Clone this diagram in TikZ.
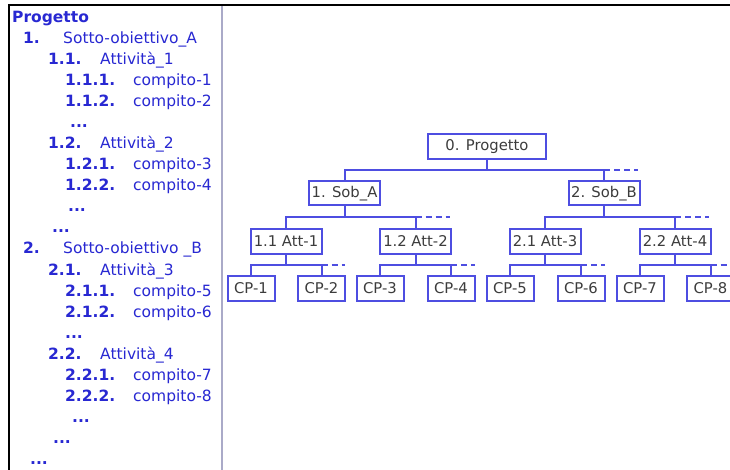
\documentclass[tikz,border=0pt]{standalone}
\usepackage{fontspec}
\setmainfont{DejaVu Sans}
\definecolor{tblue}{RGB}{78,78,225}
\definecolor{lblue}{RGB}{40,40,210}
\definecolor{ttext}{RGB}{60,60,60}
\definecolor{divc}{RGB}{170,170,200}
\begin{document}
\begin{tikzpicture}[x=1pt,y=-1pt,
 box/.style={draw=tblue, line width=2pt, fill=white, inner sep=0pt, text=ttext, font=\fontsize{14.8}{16}\selectfont},
 rootbox/.style={box, minimum width=118pt, minimum height=25pt},
 midbox/.style={box, minimum width=71pt, minimum height=24pt},
 leafbox/.style={box, minimum width=47pt, minimum height=25pt},
 link/.style={draw=tblue, line width=2pt},
 ext/.style={link, dash pattern=on 6pt off 4pt},
 num/.style={anchor=base west, inner sep=0pt, text=lblue, font=\fontsize{15.5}{18}\selectfont\bfseries},
 lbl/.style={anchor=base west, inner sep=0pt, text=lblue, font=\fontsize{15.5}{18}\selectfont},
]
\useasboundingbox (0,0) rectangle (730,470);
\fill[white] (0,0) rectangle (730,470);
\clip (0,0) rectangle (730,470);
% frame
\draw[black, line width=2pt] (8.5,471) -- (8.5,5.5) -- (731,5.5);
\draw[divc, line width=2pt] (222,6.5) -- (222,471);
% left outline text
\node[num] (p0) at (12,23) {Progetto};
\node[num] (n1) at (23,44) {1.};      \node[lbl] (l1) at (63,44) {Sotto-obiettivo\_A};
\node[num] (n2) at (48,65) {1.1.};    \node[lbl] (l2) at (100,65) {Attività\_1};
\node[num] (n3) at (65,86) {1.1.1.};  \node[lbl] (l3) at (133,86) {compito-1};
\node[num] (n4) at (65,107) {1.1.2.}; \node[lbl] (l4) at (133,107) {compito-2};
\node[num] (d5) at (70,128) {...};
\node[num] (n6) at (48,149) {1.2.};   \node[lbl] (l6) at (100,149) {Attività\_2};
\node[num] (n7) at (65,170) {1.2.1.}; \node[lbl] (l7) at (133,170) {compito-3};
\node[num] (n8) at (65,191) {1.2.2.}; \node[lbl] (l8) at (133,191) {compito-4};
\node[num] (d9) at (68,212) {...};
\node[num] (d10) at (52,233) {...};
\node[num] (n11) at (23,254) {2.};    \node[lbl] (l11) at (63,254) {Sotto-obiettivo \_B};
\node[num] (n12) at (48,275) {2.1.};  \node[lbl] (l12) at (100,275) {Attività\_3};
\node[num] (n13) at (65,296) {2.1.1.};\node[lbl] (l13) at (133,296) {compito-5};
\node[num] (n14) at (65,317) {2.1.2.};\node[lbl] (l14) at (133,317) {compito-6};
\node[num] (d15) at (65,338) {...};
\node[num] (n16) at (48,359) {2.2.};  \node[lbl] (l16) at (100,359) {Attività\_4};
\node[num] (n17) at (65,380) {2.2.1.};\node[lbl] (l17) at (133,380) {compito-7};
\node[num] (n18) at (65,401) {2.2.2.};\node[lbl] (l18) at (133,401) {compito-8};
\node[num] (d19) at (72,422) {...};
\node[num] (d20) at (53,443) {...};
\node[num] (d21) at (30,464) {...};
% tree nodes
\node[rootbox] (r) at (487,146.5) {0. Progetto};
\node[midbox] (sa) at (344.5,193.5) {1. Sob\_A};
\node[midbox] (sb) at (604,193.5) {2. Sob\_B};
\node[midbox] (a1) at (286,241.5) {1.1 Att-1};
\node[midbox] (a2) at (415.5,241.5) {1.2 Att-2};
\node[midbox] (a3) at (545,241.5) {2.1 Att-3};
\node[midbox] (a4) at (675,241.5) {2.2 Att-4};
\node[leafbox] (c1) at (251,288.5) {CP-1};
\node[leafbox] (c2) at (321.5,288.5) {CP-2};
\node[leafbox] (c3) at (380,288.5) {CP-3};
\node[leafbox] (c4) at (451,288.5) {CP-4};
\node[leafbox] (c5) at (510,288.5) {CP-5};
\node[leafbox] (c6) at (581,288.5) {CP-6};
\node[leafbox] (c7) at (640,288.5) {CP-7};
\node[leafbox] (c8) at (710.5,288.5) {CP-8};
% junctions and dashed ends
\coordinate (j0) at (487,170);   \coordinate (e0) at (638,170);
\coordinate (j1) at (344.5,217.5); \coordinate (e1) at (450,217.5);
\coordinate (j2) at (604,217.5);   \coordinate (e2) at (709,217.5);
\coordinate (j3) at (286,265);   \coordinate (e3) at (345,265);
\coordinate (j4) at (415.5,265); \coordinate (e4) at (475,265);
\coordinate (j5) at (545,265);   \coordinate (e5) at (605,265);
\coordinate (j6) at (675,265);   \coordinate (e6) at (736,265);
% connectors
\draw[link] (r.south) -- (j0);
\draw[link] (sa.north) -- (sa.north |- j0) -- (sb.north |- j0) -- (sb.north);
\draw[ext] (sb.north |- j0) -- (e0);
\draw[link] (sa.south) -- (j1);
\draw[link] (a1.north) -- (a1.north |- j1) -- (a2.north |- j1) -- (a2.north);
\draw[ext] (a2.north |- j1) -- (e1);
\draw[link] (sb.south) -- (j2);
\draw[link] (a3.north) -- (a3.north |- j2) -- (a4.north |- j2) -- (a4.north);
\draw[ext] (a4.north |- j2) -- (e2);
\draw[link] (a1.south) -- (j3);
\draw[link] (c1.north) -- (c1.north |- j3) -- (c2.north |- j3) -- (c2.north);
\draw[ext] (c2.north |- j3) -- (e3);
\draw[link] (a2.south) -- (j4);
\draw[link] (c3.north) -- (c3.north |- j4) -- (c4.north |- j4) -- (c4.north);
\draw[ext] (c4.north |- j4) -- (e4);
\draw[link] (a3.south) -- (j5);
\draw[link] (c5.north) -- (c5.north |- j5) -- (c6.north |- j5) -- (c6.north);
\draw[ext] (c6.north |- j5) -- (e5);
\draw[link] (a4.south) -- (j6);
\draw[link] (c7.north) -- (c7.north |- j6) -- (c8.north |- j6) -- (c8.north);
\draw[ext] (c8.north |- j6) -- (e6);
\end{tikzpicture}
\end{document}
